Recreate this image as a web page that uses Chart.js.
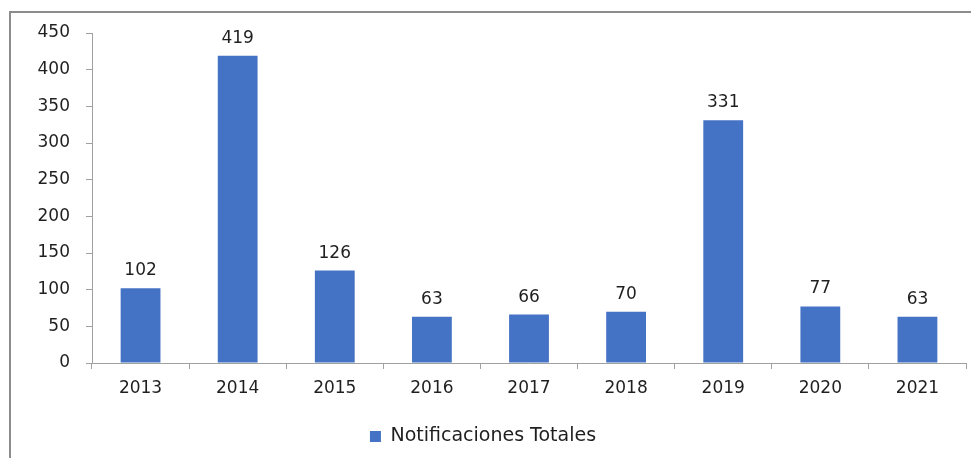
<!DOCTYPE html>
<html>
<head>
<meta charset="utf-8">
<script src="https://cdn.jsdelivr.net/npm/chart.js@4/dist/chart.umd.min.js"></script>
<style>
  html, body { margin: 0; padding: 0; background: #fff; }
  #wrap { position: relative; width: 971px; height: 458px; }
  #frame { position: absolute; left: 9px; top: 11px; right: -5px; bottom: -5px;
           border-top: 2px solid #8c8c8c; border-left: 2px solid #8c8c8c; }
  canvas { position: absolute; left: 0; top: 0; }
</style>
</head>
<body>
<div id="wrap">
  <div id="frame"></div>
  <canvas id="chart" width="971" height="458"></canvas>
</div>
<script>
// Chart data
const years = ['2013', '2014', '2015', '2016', '2017', '2018', '2019', '2020', '2021'];
const notificaciones = [102, 419, 126, 63, 66, 70, 331, 77, 63];
const seriesName = 'Notificaciones Totales';

const textColor = '#1f1f1f';
const axisColor = '#a0a0a0';
const fontFamily = '"DejaVu Sans", sans-serif';

// draws value above each bar
const barLabels = {
    id: 'barLabels',
    afterDatasetsDraw(chart) {
        const ctx = chart.ctx;
        const meta = chart.getDatasetMeta(0);
        ctx.save();
        ctx.font = '17px ' + fontFamily;
        ctx.fillStyle = textColor;
        ctx.textAlign = 'center';
        ctx.textBaseline = 'bottom';
        meta.data.forEach((bar, i) => {
            ctx.fillText(chart.data.datasets[0].data[i], bar.x, bar.y - 9);
        });
        ctx.restore();
    }
};

Chart.defaults.font.family = fontFamily;
Chart.defaults.font.size = 17;
Chart.defaults.color = textColor;

new Chart(document.getElementById('chart'), {
    type: 'bar',
    data: {
        labels: years,
        datasets: [{
            label: seriesName,
            data: notificaciones,
            backgroundColor: '#4472C4',
            categoryPercentage: 1,
            barPercentage: 0.41
        }]
    },
    options: {
        responsive: false,
        animation: false,
        layout: { padding: { left: 0, right: 5, top: 33, bottom: 2 } },
        plugins: {
            legend: {
                position: 'bottom',
                labels: {
                    boxWidth: 11,
                    boxHeight: 11,
                    padding: 9,
                    color: textColor,
                    font: { size: 19 }
                }
            },
            tooltip: { enabled: false }
        },
        scales: {
            x: {
                grid: { drawOnChartArea: false, offset: true, tickLength: 6, color: axisColor },
                border: { color: axisColor, width: 1 },
                ticks: { padding: 9, color: textColor },
                afterFit: axis => { axis.height = 55; }
            },
            y: {
                min: 0,
                max: 450,
                grid: { drawOnChartArea: false, tickLength: 6, color: axisColor },
                border: { color: axisColor, width: 1 },
                ticks: { stepSize: 50, padding: 16, color: textColor },
                afterFit: axis => { axis.width = 92; }
            }
        }
    },
    plugins: [barLabels]
});
</script>
</body>
</html>
